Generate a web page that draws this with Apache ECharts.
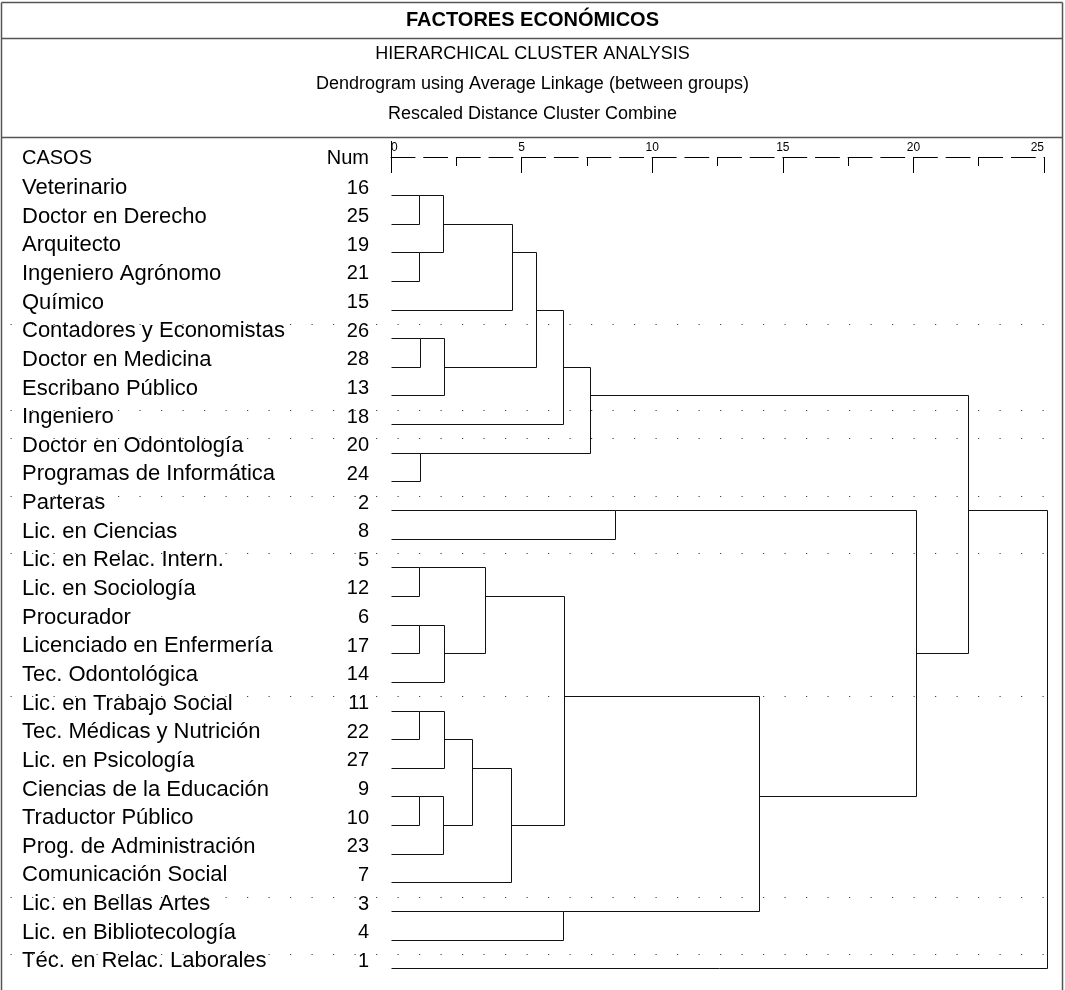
<!DOCTYPE html>
<html><head><meta charset="utf-8">
<script src="https://cdn.jsdelivr.net/npm/echarts@6/dist/echarts.min.js"></script>
<style>html,body{margin:0;padding:0;background:#fff}#c{width:1065px;height:990px}</style>
</head><body><div id="c"></div>
<script>
const chartTitle = 'FACTORES ECONÓMICOS';
const subTitles = ['HIERARCHICAL CLUSTER ANALYSIS', 'Dendrogram using Average Linkage (between groups)', 'Rescaled Distance Cluster Combine'];
const headerCases = 'CASOS';
const headerNum = 'Num';
const caseNames = ['Veterinario','Doctor en Derecho','Arquitecto','Ingeniero Agrónomo','Químico','Contadores y Economistas','Doctor en Medicina','Escribano Público','Ingeniero','Doctor en Odontología','Programas de Informática','Parteras','Lic. en Ciencias','Lic. en Relac. Intern.','Lic. en Sociología','Procurador','Licenciado en Enfermería','Tec. Odontológica','Lic. en Trabajo Social','Tec. Médicas y Nutrición','Lic. en Psicología','Ciencias de la Educación','Traductor Público','Prog. de Administración','Comunicación Social','Lic. en Bellas Artes','Lic. en Bibliotecología','Téc. en Relac. Laborales'];
const caseNums = [16,25,19,21,15,26,28,13,18,20,24,2,8,5,12,6,17,14,11,22,27,9,10,23,7,3,4,1];
const scaleMin = 0, scaleMax = 25, scaleStep = 5;
// merges: pairs of cluster ids (0-27 = rows in order, 28+ = merges in this order)
const mergePairs = [[0,1],[2,3],[5,6],[9,10],[13,14],[15,16],[18,19],[21,22],[28,29],[30,7],[33,17],[34,20],[35,23],[39,40],[32,38],[41,24],[36,4],[44,37],[45,8],[25,26],[42,43],[46,31],[11,12],[48,47],[50,51],[49,52],[53,27]];
const mergeDistance = [1.07,1.07,1.11,1.11,1.07,1.07,1.07,1.07,1.99,2.04,2.04,2.04,2.0,3.09,3.59,4.59,4.64,5.54,6.58,6.57,6.61,7.61,8.58,14.09,20.09,22.1,25.1];
const mergeRow = [0,2,5,9,13,15,18,21,1,6,16,19,22,20,14,22,2,4,6,25,17.5,7,11,21,16,11,19];
const dottedRows = [4.5,7.5,8.5,10.5,12.5,17.5,24.5,26.5];

const FONT = "'Liberation Sans', Arial, sans-serif";
const nodeRow = caseNames.map((_, i) => i);
const nodeDist = caseNames.map(() => 0);
const segs = [];
mergePairs.forEach(([a, b], k) => {
  const d = mergeDistance[k];
  segs.push([nodeDist[a], nodeRow[a], d, nodeRow[a]]);
  segs.push([nodeDist[b], nodeRow[b], d, nodeRow[b]]);
  segs.push([d, nodeRow[a], d, nodeRow[b]]);
  nodeRow.push(mergeRow[k]); nodeDist.push(d);
});
const crisp = v => Math.round(v) + 0.5;

const chart = echarts.init(document.getElementById('c'), null, {renderer: 'canvas'});
const titles = [{text: chartTitle, left: 'center', top: 10, padding: 0, textStyle: {fontFamily: FONT, fontSize: 20, fontWeight: 'bold', color: '#000'}}];
subTitles.forEach((t, i) => titles.push({text: t, left: 'center', top: 45 + 30 * i, padding: 0, textStyle: {fontFamily: FONT, fontSize: 18, fontWeight: 'normal', color: '#000'}}));
titles.push({text: headerCases, left: 22, top: 148, padding: 0, textStyle: {fontFamily: FONT, fontSize: 20, fontWeight: 'normal', color: '#000'}});
titles.push({text: headerNum, right: 1065 - 369, top: 148, padding: 0, textStyle: {fontFamily: FONT, fontSize: 20, fontWeight: 'normal', color: '#000'}});

const frameStroke = {stroke: '#555', lineWidth: 1.5};
chart.setOption({
  animation: false,
  backgroundColor: '#fff',
  title: titles,
  graphic: [
    {type: 'line', shape: {x1: 1.5, y1: 2.5, x2: 1062.5, y2: 2.5}, style: frameStroke},
    {type: 'line', shape: {x1: 1.5, y1: 38.5, x2: 1062.5, y2: 38.5}, style: frameStroke},
    {type: 'line', shape: {x1: 1.5, y1: 137.5, x2: 1062.5, y2: 137.5}, style: frameStroke},
    {type: 'line', shape: {x1: 1.5, y1: 2.5, x2: 1.5, y2: 990}, style: frameStroke},
    {type: 'line', shape: {x1: 1062.5, y1: 2.5, x2: 1062.5, y2: 990}, style: frameStroke}
  ],
  grid: {left: 391, right: 21, top: 180.7, bottom: 7.4, containLabel: false, outerBoundsMode: 'none'},
  xAxis: [
    {type: 'value', min: scaleMin, max: scaleMax, interval: scaleStep, position: 'top', offset: 23.7,
     axisLine: {show: true, onZero: false, lineStyle: {color: '#000', width: 1, type: [24, 8.65]}},
     axisTick: {show: true, inside: true, length: 16, lineStyle: {color: '#000', width: 1}},
     minorTick: {show: true, splitNumber: 2, length: 9, lineStyle: {color: '#000', width: 1}},
     splitLine: {show: false}, minorSplitLine: {show: false},
     axisLabel: {show: true, margin: 3, fontFamily: FONT, fontSize: 12, color: '#000', alignMinLabel: 'left', alignMaxLabel: 'right'}},
    {type: 'value', min: scaleMin, max: scaleMax, interval: scaleStep, position: 'top', offset: 23.7,
     axisLine: {show: false, onZero: false}, splitLine: {show: false}, axisLabel: {show: false},
     axisTick: {show: true, inside: false, length: 16, customValues: [scaleMin], lineStyle: {color: '#000', width: 1}}}
  ],
  yAxis: [
    {type: 'category', inverse: true, data: caseNames, position: 'left',
     axisLine: {show: false}, axisTick: {show: false}, splitLine: {show: false},
     axisLabel: {interval: 0, align: 'left', margin: 391 - 22, fontFamily: FONT, fontSize: 22, color: '#000', verticalAlign: 'bottom', lineHeight: 14}},
    {type: 'category', inverse: true, data: caseNums.map(String), position: 'left',
     axisLine: {show: false}, axisTick: {show: false}, splitLine: {show: false},
     axisLabel: {interval: 0, align: 'right', margin: 391 - 369, fontFamily: FONT, fontSize: 20, color: '#000', verticalAlign: 'bottom', lineHeight: 14}},
    {type: 'value', inverse: true, min: -0.5, max: caseNames.length - 0.5, show: false}
  ],
  series: [
    {type: 'custom', xAxisIndex: 0, yAxisIndex: 2, clip: false, silent: true,
     data: dottedRows.map(r => [0, r]), encode: {x: 0, y: 1},
     renderItem: (params, api) => {
       const y = crisp(api.coord([0, api.value(1)])[1]);
       const x0 = api.coord([0, 0])[0] - 15 - 21.5 * 17;
       return {type: 'line', shape: {x1: x0, y1: y, x2: api.getWidth() - 3, y2: y},
               style: {stroke: '#444', lineWidth: 1.2, lineDash: [1.2, 20.3]}};
     }},
    {type: 'custom', xAxisIndex: 0, yAxisIndex: 2, clip: false, silent: true,
     data: segs, encode: {x: [0, 2], y: [1, 3]},
     renderItem: (params, api) => {
       const p1 = api.coord([api.value(0), api.value(1)]);
       const p2 = api.coord([api.value(2), api.value(3)]);
       return {type: 'line', shape: {x1: crisp(p1[0]), y1: crisp(p1[1]), x2: crisp(p2[0]), y2: crisp(p2[1])},
               style: {stroke: '#111', lineWidth: 1}};
     }}
  ]
});
</script></body></html>
